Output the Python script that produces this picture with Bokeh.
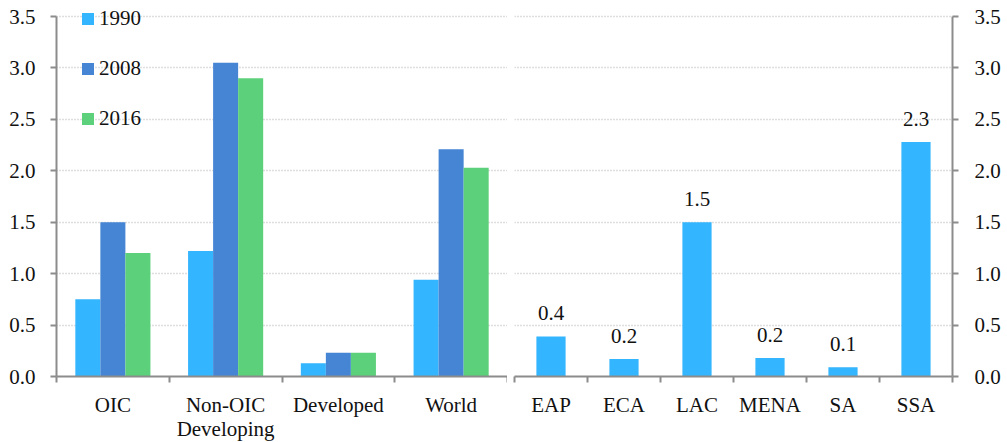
from bokeh.plotting import figure
from bokeh.models import (ColumnDataSource, FixedTicker, Legend, LegendItem,
                          Range1d)
from bokeh.layouts import row
from bokeh.core.properties import value
from bokeh.embed import file_html
from bokeh.resources import INLINE

# ---------------- data ----------------
groups = ["OIC", "Non-OIC\nDeveloping", "Developed", "World"]
years = ["1990", "2008", "2016"]
vals_1990 = [0.75, 1.22, 0.13, 0.94]
vals_2008 = [1.50, 3.05, 0.23, 2.21]
vals_2016 = [1.20, 2.90, 0.23, 2.03]

regions = ["EAP", "ECA", "LAC", "MENA", "SA", "SSA"]
region_vals = [0.39, 0.17, 1.50, 0.18, 0.09, 2.28]
region_labels = ["0.4", "0.2", "1.5", "0.2", "0.1", "2.3"]

y_ticks = [0.0, 0.5, 1.0, 1.5, 2.0, 2.5, 3.0, 3.5]
Y_MAX = 3.5
Y_TOP = 3.6167  # a little headroom above the axis so the legend fits

colors = ["#33B5FF", "#4585D4", "#5CD07A"]
FONT = "Liberation Serif"
FS = "21px"
AXIS_COLOR = "#8C8C8C"
GRID_COLOR = "#BDBDBD"
FRAME_H = 372


def style_axes(p):
    for ax in p.xaxis + p.yaxis:
        ax.axis_line_color = AXIS_COLOR
        ax.axis_line_width = 2
        ax.major_tick_line_width = 2
        ax.major_label_text_font = FONT
        ax.major_label_text_font_size = FS
        ax.major_label_text_color = "#111111"
    p.xaxis.major_tick_line_color = None
    p.xaxis.minor_tick_line_color = AXIS_COLOR
    p.xaxis.minor_tick_line_width = 2
    p.xaxis.minor_tick_out = 6
    p.xaxis.minor_tick_in = 0
    p.xaxis.major_label_standoff = 10
    p.yaxis.ticker = FixedTicker(ticks=y_ticks)
    p.yaxis.bounds = (0, Y_MAX)
    p.yaxis.major_label_overrides = {t: f"{t:.1f}" for t in y_ticks}
    p.yaxis.major_tick_out = 6
    p.yaxis.major_tick_in = 0
    p.yaxis.major_tick_line_color = AXIS_COLOR
    p.yaxis.minor_tick_line_color = None
    p.xgrid.grid_line_color = None
    p.ygrid.ticker = FixedTicker(ticks=y_ticks[1:])
    p.ygrid.grid_line_color = GRID_COLOR
    p.ygrid.grid_line_dash = "1 2"
    p.ygrid.grid_line_width = 1.5


# ---------------- left panel ----------------
left = figure(frame_width=451, frame_height=FRAME_H, output_backend="svg",
              toolbar_location=None,
              x_range=Range1d(0, len(groups)), y_range=Range1d(0, Y_TOP),
              min_border_left=56, min_border_right=0, min_border_top=4,
              min_border_bottom=66, outline_line_color=None)

centers = [i + 0.5 for i in range(len(groups))]
bw = 0.222
series = [vals_1990, vals_2008, vals_2016]
renderers = []
for k, (vals, c) in enumerate(zip(series, colors)):
    src = ColumnDataSource(dict(x=[cx + (k - 1) * bw for cx in centers], top=vals))
    r = left.vbar(x="x", top="top", width=bw, bottom=0, source=src,
                  fill_color=c, line_color=None)
    renderers.append(r)

left.xaxis.ticker = FixedTicker(ticks=centers,
                                minor_ticks=list(range(len(groups) + 1)))
left.xaxis.major_label_overrides = {c: g for c, g in zip(centers, groups)}
left.xaxis.major_label_text_line_height = 1.0
style_axes(left)
left.yaxis.major_label_standoff = 15

legend = Legend(items=[LegendItem(label=y, renderers=[r]) for y, r in zip(years, renderers)],
                location=(24, 245), padding=0, margin=0, border_line_color=None,
                background_fill_alpha=0, glyph_width=15, glyph_height=15,
                label_height=20, spacing=25, label_standoff=4,
                label_text_font=FONT, label_text_font_size=FS,
                label_text_color="#111111")
left.add_layout(legend, "center")

# ---------------- right panel ----------------
right = figure(frame_width=438, frame_height=FRAME_H, output_backend="svg",
               toolbar_location=None,
               x_range=Range1d(0, len(regions)), y_range=Range1d(0, Y_TOP),
               y_axis_location="right",
               min_border_left=7, min_border_right=48, min_border_top=4,
               min_border_bottom=66, outline_line_color=None)

rc = [i + 0.5 for i in range(len(regions))]
rsrc = ColumnDataSource(dict(x=rc, top=region_vals, lab=region_labels))
right.vbar(x="x", top="top", width=0.4, bottom=0, source=rsrc,
           fill_color=colors[0], line_color=None)
right.text(x="x", y="top", text="lab", source=rsrc, text_align="center",
           text_baseline="alphabetic", y_offset=-23,
           text_font=value(FONT), text_font_size=FS, text_color="#111111")

right.xaxis.ticker = FixedTicker(ticks=rc, minor_ticks=list(range(len(regions) + 1)))
right.xaxis.major_label_overrides = {c: g for c, g in zip(rc, regions)}
style_axes(right)
right.yaxis.major_label_standoff = 16

layout = row(left, right, spacing=0)
open("out.html", "w").write(file_html(layout, INLINE))
